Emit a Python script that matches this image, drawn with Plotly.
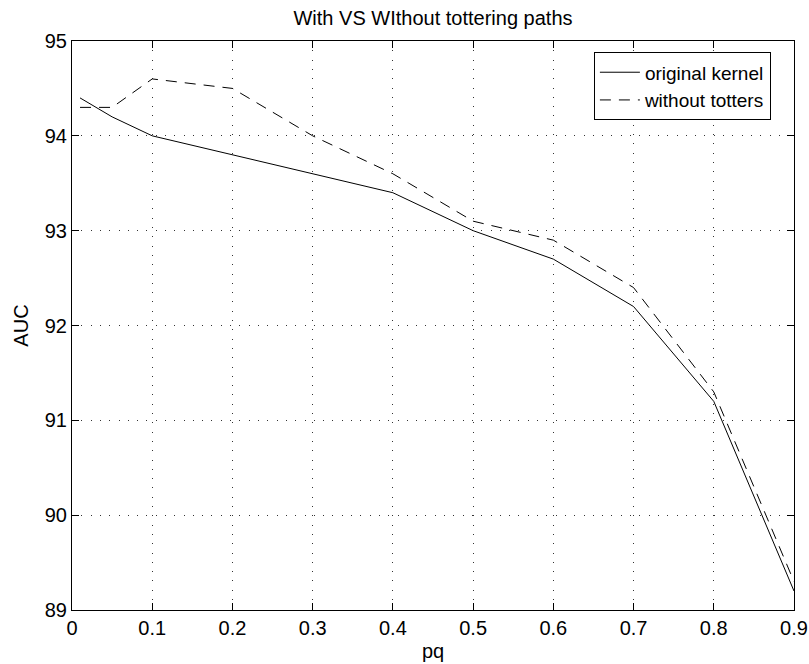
import plotly.graph_objects as go

pq = [0.01, 0.05, 0.1, 0.2, 0.3, 0.4, 0.5, 0.6, 0.7, 0.8, 0.9]
original_kernel = [94.4, 94.2, 94.0, 93.8, 93.6, 93.4, 93.0, 92.7, 92.2, 91.2, 89.2]
without_totters = [94.3, 94.3, 94.6, 94.5, 94.0, 93.6, 93.1, 92.9, 92.4, 91.3, 89.3]

x_ticks = [0, 0.1, 0.2, 0.3, 0.4, 0.5, 0.6, 0.7, 0.8, 0.9]
x_tick_labels = ["0", "0.1", "0.2", "0.3", "0.4", "0.5", "0.6", "0.7", "0.8", "0.9"]
y_ticks = [89, 90, 91, 92, 93, 94, 95]
y_tick_labels = ["89", "90", "91", "92", "93", "94", "95"]

FONT = "Liberation Sans, Arial, Helvetica, sans-serif"

fig = go.Figure()
fig.add_trace(go.Scatter(x=pq, y=original_kernel, mode="lines", name="original kernel",
                         line=dict(color="black", width=1)))
fig.add_trace(go.Scatter(x=pq, y=without_totters, mode="lines", name="without totters",
                         line=dict(color="black", width=1, dash="11px,8px")))

axis_common = dict(
    showline=True, linecolor="black", linewidth=1, mirror="ticks",
    ticks="inside", ticklen=7, tickcolor="black", tickwidth=1,
    showgrid=True, gridcolor="rgba(0,0,0,0.8)", gridwidth=1, griddash="1px,8.3px",
    zeroline=False, tickfont=dict(family=FONT, size=20, color="black"),
    automargin=False,
)

fig.update_layout(
    width=809, height=664,
    margin=dict(l=72, r=15, t=41, b=54),
    paper_bgcolor="white", plot_bgcolor="white",
    font=dict(family=FONT, size=20, color="black"),
    title=dict(text="With VS WIthout tottering paths", x=0.5, xref="paper", xanchor="center",
               y=1 - 18 / 664, yref="container", yanchor="middle",
               font=dict(family=FONT, size=20, color="black")),
    xaxis=dict(range=[0, 0.9], tickvals=x_ticks, ticktext=x_tick_labels,
               title=dict(text="pq", standoff=5, font=dict(family=FONT, size=20)),
               **axis_common),
    yaxis=dict(range=[89, 95], tickvals=y_ticks, ticktext=y_tick_labels,
               title=dict(text="AUC", standoff=10, font=dict(family=FONT, size=20)),
               **axis_common),
    legend=dict(x=0.968, xanchor="right", y=0.98, yanchor="top",
                bgcolor="white", bordercolor="black", borderwidth=1,
                font=dict(family=FONT, size=19, color="black"),
                itemwidth=40, tracegroupgap=0),
    showlegend=True,
)

fig.write_html("out.html")
